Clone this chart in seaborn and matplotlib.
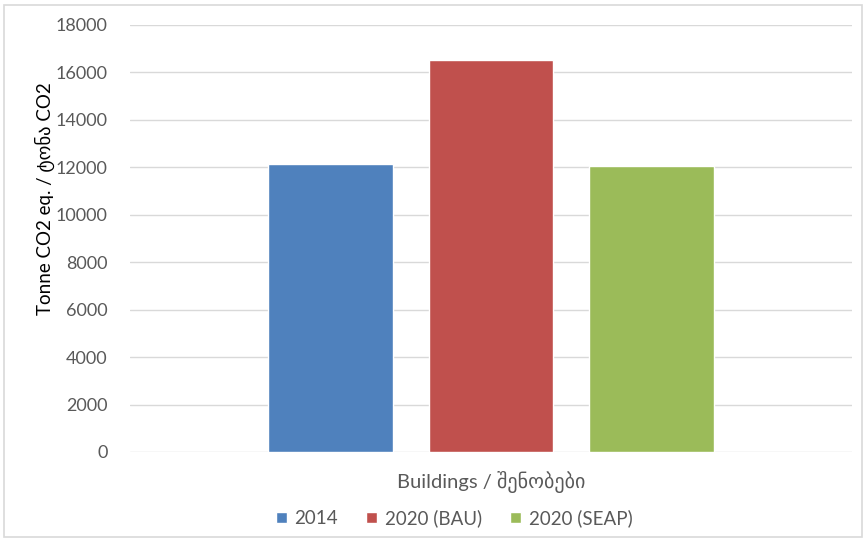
import matplotlib
matplotlib.use("Agg")
import matplotlib.pyplot as plt
import seaborn as sns
import pandas as pd
from matplotlib.patches import Rectangle

# Emissions by scenario for the buildings sector
category = ["Buildings / შენობები"]
series = ["2014", "2020 (BAU)", "2020 (SEAP)"]
values = [12150, 16530, 12060]
colors = ["#4F81BD", "#C0504D", "#9BBB59"]
yticks = [0, 2000, 4000, 6000, 8000, 10000, 12000, 14000, 16000, 18000]

df = pd.DataFrame({
    "sector": category * len(series),
    "scenario": series,
    "value": values,
})

sns.set_theme(style="white")
plt.rcParams["font.family"] = ["Lato", "DejaVu Sans"]

fig = plt.figure(figsize=(8.66, 5.4), dpi=100)
ax = fig.add_axes([0.150, 0.163, 0.834, 0.791])

sns.barplot(data=df, x="sector", y="value", hue="scenario",
            palette=colors, width=0.665, gap=0.22, ax=ax,
            saturation=1, legend=True)

ax.set_xlim(-0.5, 0.5)
ax.set_ylim(0, 18000)
ax.set_yticks(yticks)
ax.set_yticklabels([str(t) for t in yticks])
ax.yaxis.grid(True, color="#d9d9d9", linewidth=1)
ax.set_axisbelow(True)
for s in ax.spines.values():
    s.set_visible(False)
ax.tick_params(axis="y", length=0, pad=16, labelsize=13, labelcolor="#595959")
ax.tick_params(axis="x", length=0, labelsize=14.5, labelcolor="#595959", pad=14)
ax.set_xlabel("")
ax.set_ylabel("")

fig.text(0.052, 1 - 199 / 540, "Tonne CO2 eq. / ტონა CO2", rotation=90,
         ha="center", va="center", fontsize=13.5, color="#000000")

ax.legend(loc="center", bbox_to_anchor=(0.449, -0.155), ncol=3, frameon=False,
          fontsize=13.5, labelcolor="#595959", handlelength=0.6, handleheight=0.6,
          handletextpad=0.4, columnspacing=1.5)

fig.patches.append(Rectangle((0.005, 0.006), 0.99, 0.985, transform=fig.transFigure,
                             fill=False, edgecolor="#d9d9d9", linewidth=1.2))

fig.savefig("out.png", dpi=100, facecolor="white")
